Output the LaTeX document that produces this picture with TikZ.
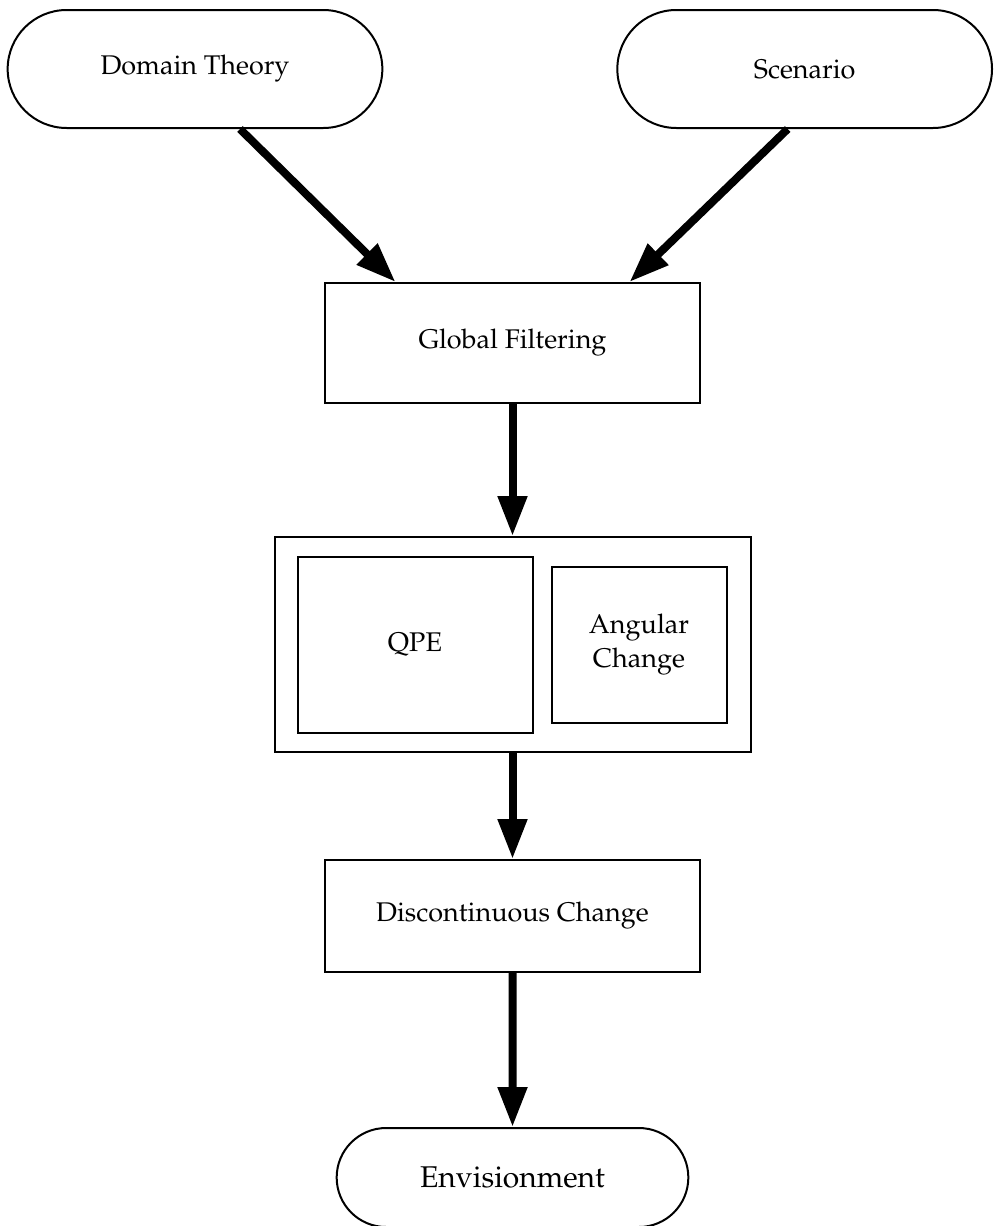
\documentclass[tikz,border=0pt]{standalone}
\usepackage[T1]{fontenc}
\usepackage{mathpazo}
\usepackage{tikz}
\usetikzlibrary{shapes.misc, arrows.meta, positioning}
\tikzstyle{terminal} = [rounded rectangle, draw, line width=1pt, minimum width=194pt, minimum height=59pt, text centered, font=\fontsize{13.5}{17}\selectfont]
\tikzstyle{process} = [rectangle, draw, line width=1pt, minimum width=187.5pt, minimum height=60pt, text centered, font=\fontsize{13.5}{17}\selectfont]
\tikzstyle{module} = [rectangle, draw, line width=1pt, align=center, inner sep=0pt, font=\fontsize{13.5}{17}\selectfont]
\tikzstyle{arrow} = [-{Triangle[length=20pt, width=14pt]}, line width=4pt]

\begin{document}
\begin{tikzpicture}[x=0.5pt, y=-0.5pt]
    \useasboundingbox (0,0) rectangle (1005,1226);

    % Inputs
    \node[terminal] (domain) at (195,69) {Domain Theory};
    \node[terminal, right=116.5pt of domain] (scenario) {Scenario};

    % Filtering stage
    \node[process] (filter) at (512.5,343) {Global Filtering};

    % QPE and angular change block
    \node[module, below=66pt of filter, minimum width=238pt, minimum height=107.5pt] (sim) {};
    \node[module, right=11.5pt of sim.west, minimum width=117.5pt, minimum height=88pt] (qpe) {QPE};
    \node[module, left=12pt of sim.east, minimum width=87.5pt, minimum height=78pt] (angular) {Angular\\Change};

    % Discontinuous change and output
    \node[process, below=53pt of sim, minimum height=56pt] (discont) {Discontinuous Change};
    \node[terminal, below=77pt of discont, minimum width=182.5pt, minimum height=49.5pt, font=\fontsize{15}{18}\selectfont] (envision) {Envisionment};

    % Arrows
    \draw[arrow] ([xshift=22.5pt]domain.south) -- ([xshift=-58.5pt]filter.north);
    \draw[arrow] ([xshift=-8.5pt]scenario.south) -- ([xshift=58.5pt]filter.north);
    \draw[arrow] (filter) -- (sim);
    \draw[arrow] (sim) -- (discont);
    \draw[arrow] (discont) -- (envision);
\end{tikzpicture}
\end{document}
